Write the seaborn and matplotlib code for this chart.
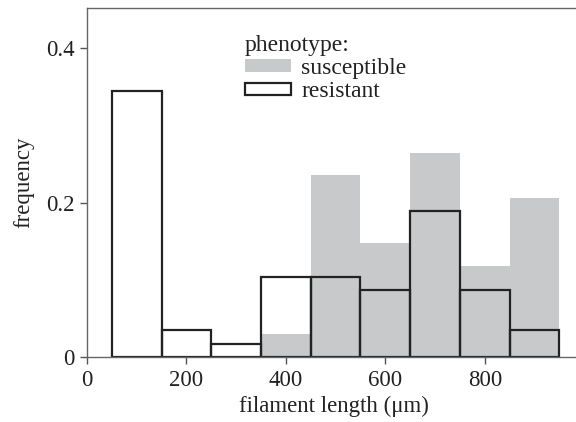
import numpy as np
import matplotlib
matplotlib.use("Agg")
import matplotlib.pyplot as plt
import seaborn as sns

# bin edges (µm) and frequencies
res_edges = [50, 150, 250, 350, 450, 550, 650, 750, 850, 950]
res_freq = [0.345, 0.0345, 0.0172, 0.1034, 0.1034, 0.0862, 0.1897, 0.0862, 0.0345]
sus_edges = [350, 450, 550, 650, 750, 850, 950]
sus_freq = [0.0294, 0.2353, 0.1471, 0.2647, 0.1176, 0.2059]
x_ticks = [0, 200, 400, 600, 800]
y_ticks = [0, 0.2, 0.4]
y_ticklabels = ["0", "0.2", "0.4"]

sns.set_style("ticks")
plt.rcParams['font.family'] = ['Liberation Serif', 'DejaVu Serif']
FS = 16.5

fig = plt.figure(figsize=(5.76, 4.22), dpi=100)
ax = fig.add_axes([87/576, 1 - 357/422, 1 - 87/576 + 0.01, (357 - 8)/422])

res_centers = [(a + b) / 2 for a, b in zip(res_edges[:-1], res_edges[1:])]
sus_centers = [(a + b) / 2 for a, b in zip(sus_edges[:-1], sus_edges[1:])]

sns.histplot(x=sus_centers, weights=sus_freq, bins=sus_edges, ax=ax,
             color="#c8c9cb", alpha=1, linewidth=0, label="susceptible")
sns.histplot(x=res_centers, weights=res_freq, bins=res_edges, ax=ax,
             fill=False, color="#222222", linewidth=1.6, label="resistant")

ax.set_xlim(0, 995)
ax.set_ylim(0, 0.452)
ax.set_xticks(x_ticks)
ax.set_xticklabels([str(t) for t in x_ticks])
ax.set_yticks(y_ticks)
ax.set_yticklabels(y_ticklabels)
ax.tick_params(axis="both", labelsize=FS, length=5, width=1, color="#555555",
               labelcolor="#222222", pad=4)
for s in ["left", "bottom", "top"]:
    ax.spines[s].set_color("#666666")
    ax.spines[s].set_linewidth(1.0)
ax.spines["right"].set_visible(False)
ax.set_xlabel("filament length (μm)", fontsize=FS, color="#222222", labelpad=4)
ax.set_ylabel("frequency", fontsize=FS, color="#222222", labelpad=8)

leg = ax.legend(loc="upper left", bbox_to_anchor=(228/576, 1 - 18/422),
                bbox_transform=fig.transFigure, frameon=False,
                title="phenotype:", fontsize=17, title_fontsize=17,
                handlelength=1.95, handleheight=0.42, handletextpad=0.45,
                labelspacing=0.1, borderpad=0.2)
leg._legend_box.align = "left"
for t in leg.get_texts():
    t.set_color("#222222")
leg.get_title().set_color("#222222")

fig.savefig("out.png", dpi=100)
